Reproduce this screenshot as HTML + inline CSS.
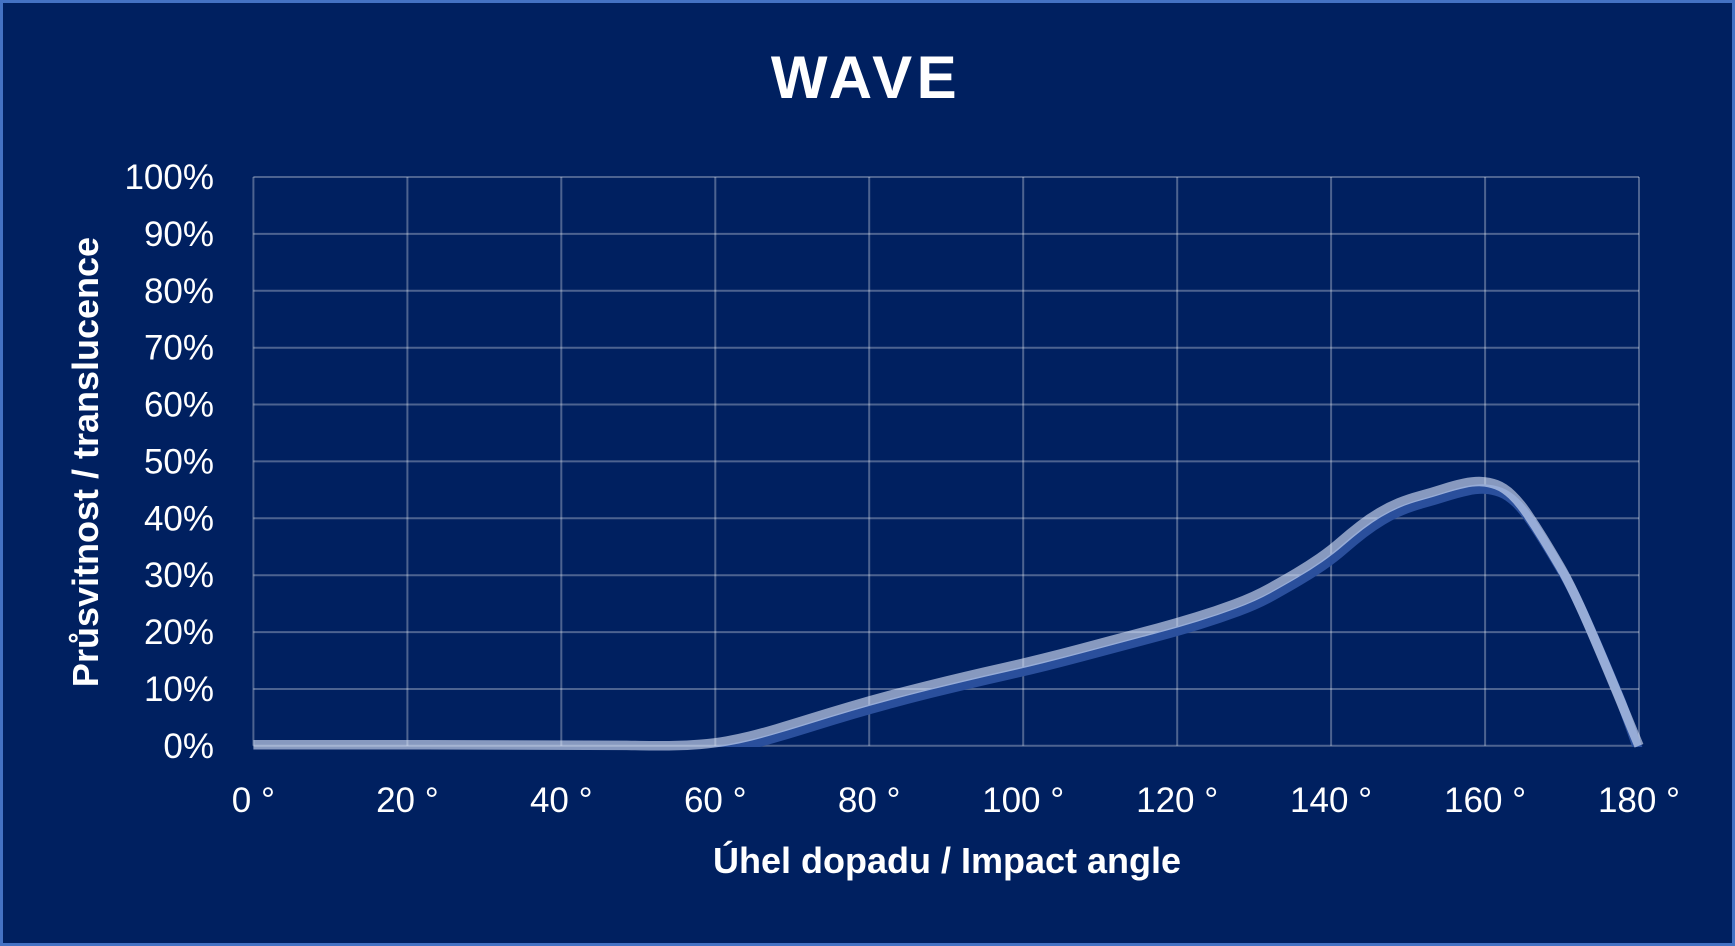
<!DOCTYPE html>
<html>
<head>
<meta charset="utf-8">
<style>
  html, body { margin:0; padding:0; background:#002060; }
  body { width:1735px; height:946px; overflow:hidden; }
  svg { display:block; }
  text { font-family:"Liberation Sans", "DejaVu Sans", sans-serif; fill:#ffffff; }
</style>
</head>
<body>
<svg width="1735" height="946" viewBox="0 0 1735 946" xmlns="http://www.w3.org/2000/svg">
  <defs>
    <clipPath id="plotclip">
      <rect x="240" y="160" width="1420" height="587"/>
    </clipPath>
  </defs>
  <!-- background & frame -->
  <rect x="0" y="0" width="1735" height="946" fill="#002060"/>
  <rect x="1.5" y="1.5" width="1732" height="943" fill="none" stroke="#4472C4" stroke-width="3"/>

  <!-- title -->
  <text x="866" y="98" font-size="60" font-weight="bold" text-anchor="middle" letter-spacing="4.5">WAVE</text>

  <!-- gridlines -->
  <g stroke="rgba(255,255,255,0.3)" stroke-width="2" fill="none">
    <line x1="253.4" y1="177" x2="1639" y2="177"/>
    <line x1="253.4" y1="233.9" x2="1639" y2="233.9"/>
    <line x1="253.4" y1="290.8" x2="1639" y2="290.8"/>
    <line x1="253.4" y1="347.7" x2="1639" y2="347.7"/>
    <line x1="253.4" y1="404.5" x2="1639" y2="404.5"/>
    <line x1="253.4" y1="461.4" x2="1639" y2="461.4"/>
    <line x1="253.4" y1="518.3" x2="1639" y2="518.3"/>
    <line x1="253.4" y1="575.2" x2="1639" y2="575.2"/>
    <line x1="253.4" y1="632.1" x2="1639" y2="632.1"/>
    <line x1="253.4" y1="689" x2="1639" y2="689"/>
    <line x1="253.4" y1="745.8" x2="1639" y2="745.8"/>

    <line x1="253.4" y1="177" x2="253.4" y2="745.8"/>
    <line x1="407.4" y1="177" x2="407.4" y2="745.8"/>
    <line x1="561.3" y1="177" x2="561.3" y2="745.8"/>
    <line x1="715.3" y1="177" x2="715.3" y2="745.8"/>
    <line x1="869.2" y1="177" x2="869.2" y2="745.8"/>
    <line x1="1023.2" y1="177" x2="1023.2" y2="745.8"/>
    <line x1="1177.2" y1="177" x2="1177.2" y2="745.8"/>
    <line x1="1331.1" y1="177" x2="1331.1" y2="745.8"/>
    <line x1="1485.1" y1="177" x2="1485.1" y2="745.8"/>
    <line x1="1639" y1="177" x2="1639" y2="745.8"/>
  </g>

  <!-- y tick labels -->
  <g font-size="35" text-anchor="end">
    <text x="214" y="189">100%</text>
    <text x="214" y="245.9">90%</text>
    <text x="214" y="302.8">80%</text>
    <text x="214" y="359.7">70%</text>
    <text x="214" y="416.5">60%</text>
    <text x="214" y="473.4">50%</text>
    <text x="214" y="530.3">40%</text>
    <text x="214" y="587.2">30%</text>
    <text x="214" y="644.1">20%</text>
    <text x="214" y="701">10%</text>
    <text x="214" y="757.8">0%</text>
  </g>

  <!-- x tick labels -->
  <g font-size="35" text-anchor="middle">
    <text x="253.4" y="812">0 °</text>
    <text x="407.4" y="812">20 °</text>
    <text x="561.3" y="812">40 °</text>
    <text x="715.3" y="812">60 °</text>
    <text x="869.2" y="812">80 °</text>
    <text x="1023.2" y="812">100 °</text>
    <text x="1177.2" y="812">120 °</text>
    <text x="1331.1" y="812">140 °</text>
    <text x="1485.1" y="812">160 °</text>
    <text x="1639" y="812">180 °</text>
  </g>

  <!-- axis titles -->
  <text x="947" y="873" font-size="36" font-weight="bold" text-anchor="middle">Úhel dopadu / Impact angle</text>
  <text transform="translate(98,462) rotate(-90)" font-size="36" font-weight="bold" text-anchor="middle">Průsvitnost / translucence</text>

  <!-- series: blue (shadow) -->
  <g clip-path="url(#plotclip)">
    <path transform="translate(3.5,7.5)" fill="none" stroke="#2A4F9C" stroke-width="9.5" stroke-linejoin="round" stroke-linecap="butt"
      d="M253.4,744.7 L426.6,744.8 Q599.8,744.9 626.75,745.35 Q653.7,745.8 669.1,745.8 Q684.5,745.8 699.9,744.4 Q715.3,743.0 726.85,741.0 Q738.4,739.0 749.95,736.15 Q761.5,733.3 776.9,728.75 Q792.3,724.2 811.55,718.2 Q830.8,712.2 850.0,706.55 Q869.2,700.9 888.45,695.75 Q907.7,690.6 926.95,685.8 Q946.2,681.0 965.45,676.45 Q984.7,671.9 1003.95,667.6 Q1023.2,663.3 1042.45,658.5 Q1061.7,653.7 1080.95,648.55 Q1100.2,643.4 1119.45,638.3 Q1138.7,633.2 1157.95,628.05 Q1177.2,622.9 1196.45,616.95 Q1215.7,611.0 1234.9,603.9 Q1254.1,596.8 1269.5,588.25 Q1284.9,579.7 1296.45,572.85 Q1308.0,566.0 1319.55,558.05 Q1331.1,550.1 1340.75,541.6 Q1350.4,533.1 1360.0,525.7 Q1369.6,518.3 1379.25,512.6 Q1388.9,506.9 1398.5,502.95 Q1408.1,499.0 1419.65,495.85 Q1431.2,492.7 1442.75,489.0 Q1454.3,485.3 1463.9,483.3 Q1473.5,481.3 1481.2,481.6 Q1488.9,481.9 1496.6,484.75 Q1504.3,487.6 1512.0,495.0 Q1519.7,502.4 1527.4,513.75 Q1535.1,525.1 1542.8,537.6 Q1550.5,550.1 1560.15,566.6 Q1569.8,583.1 1583.25,613.25 Q1596.7,643.4 1617.85,694.6 L1636,745.8"/>
  </g>
  <!-- series: light -->
  <path fill="none" stroke="rgba(225,235,255,0.6)" stroke-width="9.5" stroke-linejoin="round" stroke-linecap="butt"
    d="M253.4,744.7 L426.6,744.8 Q599.8,744.9 626.75,745.35 Q653.7,745.8 669.1,745.8 Q684.5,745.8 699.9,744.4 Q715.3,743.0 726.85,741.0 Q738.4,739.0 749.95,736.15 Q761.5,733.3 776.9,728.75 Q792.3,724.2 811.55,718.2 Q830.8,712.2 850.0,706.55 Q869.2,700.9 888.45,695.75 Q907.7,690.6 926.95,685.8 Q946.2,681.0 965.45,676.45 Q984.7,671.9 1003.95,667.6 Q1023.2,663.3 1042.45,658.5 Q1061.7,653.7 1080.95,648.55 Q1100.2,643.4 1119.45,638.3 Q1138.7,633.2 1157.95,628.05 Q1177.2,622.9 1196.45,616.95 Q1215.7,611.0 1234.9,603.9 Q1254.1,596.8 1269.5,588.25 Q1284.9,579.7 1296.45,572.85 Q1308.0,566.0 1319.55,558.05 Q1331.1,550.1 1340.75,541.6 Q1350.4,533.1 1360.0,525.7 Q1369.6,518.3 1379.25,512.6 Q1388.9,506.9 1398.5,502.95 Q1408.1,499.0 1419.65,495.85 Q1431.2,492.7 1442.75,489.0 Q1454.3,485.3 1463.9,483.3 Q1473.5,481.3 1481.2,481.6 Q1488.9,481.9 1496.6,484.75 Q1504.3,487.6 1512.0,495.0 Q1519.7,502.4 1527.4,513.75 Q1535.1,525.1 1542.8,537.6 Q1550.5,550.1 1560.15,566.6 Q1569.8,583.1 1583.25,613.25 Q1596.7,643.4 1617.85,694.6 L1639,745.8"/>
</svg>
</body>
</html>
